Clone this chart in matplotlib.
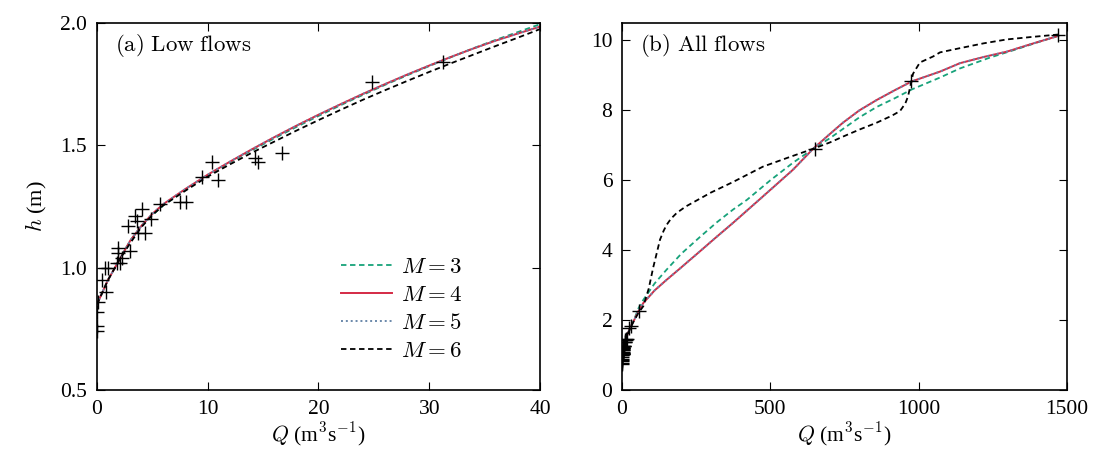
import matplotlib
matplotlib.use('Agg')
import matplotlib.pyplot as plt

plt.rcParams['font.family'] = ['Liberation Serif', 'DejaVu Serif']
plt.rcParams['mathtext.fontset'] = 'cm'

# observed gaugings (Q in m3/s, h in m)
obs_q = [0.0, 0.0, 0.0, 0.05, 0.8, 0.5, 0.7, 1.0, 1.8, 2.1, 2.3, 1.9, 1.9, 3.0,
         2.8, 3.4, 4.1, 3.6, 3.7, 4.3, 4.9, 5.7, 7.5, 8.0, 9.5, 10.4, 10.9,
         14.3, 14.5, 16.7, 24.8, 31.2, 57, 650, 975, 1470]
obs_h = [0.74, 0.76, 0.82, 0.86, 0.90, 0.95, 1.00, 1.00, 1.02, 1.02, 1.04, 1.08, 1.06, 1.07,
         1.17, 1.21, 1.24, 1.19, 1.14, 1.14, 1.20, 1.26, 1.27, 1.27, 1.37, 1.43, 1.36,
         1.45, 1.43, 1.47, 1.76, 1.84, 2.25, 6.90, 8.83, 10.15]

# rating curves
q_low = [0, 0.5, 1, 2, 3, 4, 5, 6, 8, 10, 12, 14, 16, 18, 20, 22, 24, 26, 28, 30,
         32, 34, 36, 38, 40]

h3_low = [0.85, 0.90, 0.95, 1.03, 1.11, 1.17, 1.215, 1.255, 1.318, 1.377, 1.43, 1.48,
          1.528, 1.575, 1.62, 1.664, 1.706, 1.747, 1.786, 1.824, 1.861, 1.897, 1.931, 1.963, 1.995]
q3_high = [55, 72, 110, 150, 200, 263, 320, 374, 421, 500, 576, 644, 700, 745, 800, 859,
           920, 977, 1072, 1139, 1240, 1330, 1409, 1470]
h3_high = [2.33, 2.58, 3.05, 3.44, 3.9, 4.38, 4.8, 5.16, 5.44, 6.0, 6.5, 6.9, 7.2, 7.47,
           7.8, 8.1, 8.35, 8.6, 8.94, 9.2, 9.51, 9.75, 9.97, 10.13]

h4_low = [0.85, 0.90, 0.95, 1.03, 1.11, 1.17, 1.22, 1.26, 1.322, 1.38, 1.433, 1.484,
          1.533, 1.58, 1.625, 1.668, 1.71, 1.75, 1.789, 1.826, 1.862, 1.896, 1.928, 1.957, 1.985]
q4_high = [55, 72, 110, 150, 200, 263, 320, 374, 470, 576, 644, 700, 745, 800, 859, 920,
           977, 1072, 1139, 1220, 1297, 1380, 1470]
h4_high = [2.25, 2.49, 2.85, 3.15, 3.51, 3.97, 4.39, 4.78, 5.5, 6.3, 6.9, 7.32, 7.65, 8.0,
           8.3, 8.58, 8.83, 9.11, 9.35, 9.53, 9.68, 9.9, 10.13]

h5_low = [0.85, 0.90, 0.95, 1.03, 1.11, 1.17, 1.22, 1.26, 1.322, 1.38, 1.433, 1.484,
          1.533, 1.58, 1.625, 1.668, 1.71, 1.75, 1.789, 1.826, 1.862, 1.896, 1.928, 1.957, 1.985]
q5_high = [55, 72, 110, 150, 200, 263, 320, 374, 470, 576, 644, 700, 745, 800, 859, 920,
           977, 1072, 1139, 1220, 1297, 1380, 1470]
h5_high = [2.25, 2.49, 2.85, 3.15, 3.51, 3.97, 4.39, 4.78, 5.5, 6.3, 6.9, 7.32, 7.65, 8.0,
           8.3, 8.58, 8.83, 9.11, 9.35, 9.53, 9.68, 9.9, 10.13]

h6_low = [0.85, 0.90, 0.95, 1.03, 1.10, 1.165, 1.215, 1.255, 1.315, 1.372, 1.422, 1.47,
          1.515, 1.56, 1.603, 1.645, 1.686, 1.725, 1.763, 1.80, 1.836, 1.871, 1.906, 1.94, 1.975]
q6_high = [55, 72, 90, 105, 118, 128, 140, 150, 165, 185, 215, 300, 374, 475, 560, 644, 700,
           745, 800, 859, 910, 937, 955, 964, 972, 981, 1004, 1048, 1072, 1139, 1220, 1297,
           1380, 1470]
h6_high = [2.2, 2.4, 2.9, 3.5, 3.95, 4.3, 4.55, 4.72, 4.9, 5.07, 5.25, 5.65, 5.95, 6.39, 6.65,
           6.9, 7.08, 7.25, 7.45, 7.65, 7.85, 7.98, 8.2, 8.4, 8.7, 9.05, 9.37, 9.54, 9.66,
           9.78, 9.92, 10.03, 10.1, 10.17]

curves = [
    ('$M=3$', q_low + q3_high, h3_low + h3_high, dict(color='#17a27a', ls=(0, (3, 2)), lw=1.3)),
    ('$M=4$', q_low + q4_high, h4_low + h4_high, dict(color='#d42a45', ls='-', lw=1.4)),
    ('$M=5$', q_low + q5_high, h5_low + h5_high, dict(color='#6a88aa', ls=(0, (1, 1.5)), lw=1.4)),
    ('$M=6$', q_low + q6_high, h6_low + h6_high, dict(color='k', ls=(0, (3, 2)), lw=1.3)),
]

fig = plt.figure(figsize=(10.98, 4.51), dpi=100)
ax1 = fig.add_axes([0.0883, 0.1353, 0.4035, 0.8137])
ax2 = fig.add_axes([0.5665, 0.1353, 0.4053, 0.8137])

for ax in (ax1, ax2):
    for lab, q, h, st in curves:
        ax.plot(q, h, label=lab, **st)
    ax.plot(obs_q, obs_h, ls='none', marker='+', ms=10, mew=1.0, color='k')
    ax.tick_params(direction='in', top=True, right=True, length=6, labelsize=15.5, pad=7)
    for s in ax.spines.values():
        s.set_linewidth(1.2)
    ax.set_xlabel('$Q$ (m$^3$s$^{-1}$)', fontsize=15.5, labelpad=1)

ax1.set_xlim(0, 40)
ax1.set_ylim(0.5, 2.0)
ax1.set_xticks([0, 10, 20, 30, 40])
ax1.set_yticks([0.5, 1.0, 1.5, 2.0])
ax1.set_ylabel('$h$ (m)', fontsize=16, labelpad=8)
ax1.text(0.04, 0.975, r'$\mathrm{(a)\ Low\ flows}$', transform=ax1.transAxes,
         fontsize=16.5, va='top', ha='left')
leg = ax1.legend(loc='lower right', bbox_to_anchor=(0.87, 0.02), frameon=False,
                 fontsize=16.5, handlelength=2.2, labelspacing=0.3, handletextpad=0.4)

ax2.set_xlim(0, 1500)
ax2.set_ylim(0, 10.5)
ax2.set_xticks([0, 500, 1000, 1500])
ax2.set_yticks([0, 2, 4, 6, 8, 10])
ax2.text(0.04, 0.975, r'$\mathrm{(b)\ All\ flows}$', transform=ax2.transAxes,
         fontsize=16.5, va='top', ha='left')

fig.savefig('out.png', dpi=100)
